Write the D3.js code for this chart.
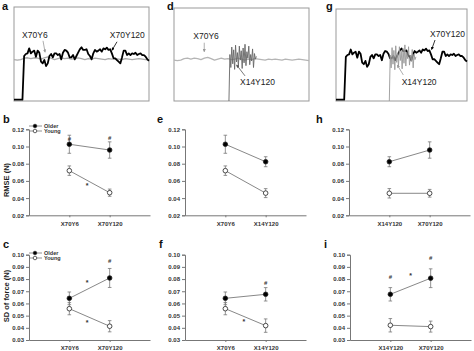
<!DOCTYPE html>
<html>
<head>
<meta charset="utf-8">
<script src="https://cdn.jsdelivr.net/npm/d3@7"></script>
<style>
  body { margin: 0; background: #fff; }
  svg { display: block; font-family: Arial, "Liberation Sans", sans-serif; }
</style>
</head>
<body>
<div id="chart"></div>
<script>
// ---- force traces (time 0-100, force in arbitrary units 0-10) ----
const traceX70Y120 = [0.14, 0.14, 0.14, 0.14, 0.14, 0.14, 4.79, 5.0, 5.07, 5.6, 5.07, 5.25, 5.36, 4.71, 5.36, 5.14,
  4.18, 4.0, 4.36, 3.71, 4.0, 4.79, 5.0, 4.64, 5.07, 5.07, 4.89, 5.0, 4.43, 5.14, 5.43, 5.36, 5.14, 4.64, 4.64,
  4.89, 4.43, 4.79, 5.14, 5.5, 5.71, 5.43, 5.43, 5.5, 5.0, 4.79, 4.43, 5.07, 5.43, 5.25, 5.36, 5.5, 5.25, 5.6,
  5.5, 5.68, 5.43, 5.5, 5.07, 4.54, 4.54, 4.36, 4.18, 4.0, 4.64, 5.36, 5.36, 4.89, 5.07, 4.89, 5.07, 5.0, 5.14,
  4.89, 5.0, 5.07, 4.89, 4.89, 4.71, 4.43, 4.29];
const traceX70Y6 = [4.4, 4.35, 4.4, 4.55, 4.6, 4.5, 4.6, 4.55, 4.45, 4.6, 4.7, 4.55, 4.4, 4.5, 4.6, 4.5, 4.55,
  4.45, 4.5, 4.6, 4.5, 4.4, 4.5, 4.45, 4.55, 4.5, 4.45, 4.4, 4.5, 4.45, 4.5, 4.45, 4.4, 4.5, 4.45, 4.4, 4.45,
  4.5, 4.45, 4.4, 4.35];
const traceX14Y120 = [0.0, 5.0, 3.6, 5.8, 4.0, 5.5, 3.4, 6.0, 4.2, 5.2, 3.7, 5.9, 4.4, 5.4, 3.5, 5.7, 4.1, 6.1,
  3.8, 5.3, 4.6, 5.9, 3.9, 5.0, 4.3, 5.6, 3.6, 5.1, 4.5, 4.8];
const spanX70Y120 = [0, 100];
const spanX70Y6 = [0, 100];
const spanX14Y120 = [40.7, 61];

// ---- RMSE (b, e, h) ----
const catsB = ['X70Y6', 'X70Y120'];
const olderB = [0.1026, 0.0959], olderErrB = [0.0105, 0.0095];
const youngB = [0.0719, 0.0463], youngErrB = [0.0055, 0.0042];
const catsE = ['X70Y6', 'X14Y120'];
const olderE = [0.1026, 0.0823], olderErrE = [0.0105, 0.0058];
const youngE = [0.0719, 0.0458], youngErrE = [0.0055, 0.0052];
const catsH = ['X14Y120', 'X70Y120'];
const olderH = [0.0823, 0.0959], olderErrH = [0.0058, 0.0095];
const youngH = [0.0456, 0.0456], youngErrH = [0.0055, 0.0045];

// ---- SD of force (c, f, i) ----
const catsC = ['X70Y6', 'X70Y120'];
const olderC = [0.0642, 0.0809], olderErrC = [0.0052, 0.0078];
const youngC = [0.0557, 0.0413], youngErrC = [0.005, 0.0046];
const catsF = ['X70Y6', 'X14Y120'];
const olderF = [0.0642, 0.0675], olderErrF = [0.0052, 0.0055];
const youngF = [0.0557, 0.0418], youngErrF = [0.005, 0.0055];
const catsI = ['X14Y120', 'X70Y120'];
const olderI = [0.0675, 0.0807], olderErrI = [0.0055, 0.0077];
const youngI = [0.0421, 0.041], youngErrI = [0.0055, 0.0045];

// significance marks: [symbol, position between categories (0..1), value]
const marksB = [['#', 0, 0.1088], ['#', 1, 0.1098], ['*', 0.44, 0.0564]];
const marksC = [['#', 1, 0.0946], ['*', 0.44, 0.0787], ['*', 0.44, 0.0456]];
const marksF = [['#', 1, 0.0768], ['*', 0.46, 0.0467]];
const marksI = [['#', 0, 0.0815], ['*', 0.5, 0.0842], ['#', 1, 0.0975]];

const ticksRmse = [0.02, 0.04, 0.06, 0.08, 0.10, 0.12];
const ticksSd = [0.03, 0.04, 0.05, 0.06, 0.07, 0.08, 0.09, 0.10];

const svg = d3.select('#chart').append('svg')
  .attr('width', 474)
  .attr('height', 351);

const defs = svg.append('defs');
[['black', '#000'], ['gray', '#999'], ['dark', '#555']].forEach(([id, c]) => {
  defs.append('marker')
    .attr('id', 'arr-' + id)
    .attr('viewBox', '0 0 6 6')
    .attr('refX', 5).attr('refY', 3)
    .attr('markerWidth', 4).attr('markerHeight', 4)
    .attr('orient', 'auto')
    .append('path').attr('d', 'M0,0 L6,3 L0,6 Z').attr('fill', c);
});

function letter(x, y, t) {
  svg.append('text').attr('x', x).attr('y', y).text(t)
    .attr('font-size', 11).attr('font-weight', 'bold').attr('fill', '#111');
}

function tracePanel(p) {
  const x = d3.scaleLinear().domain([0, 100]).range([p.x0, p.x1]);
  const y = d3.scaleLinear().domain([0, 10]).range([p.y1, p.y0]);
  const g = svg.append('g');
  g.append('rect')
    .attr('x', p.x0).attr('y', p.y0)
    .attr('width', p.x1 - p.x0).attr('height', p.y1 - p.y0)
    .attr('fill', 'none').attr('stroke', '#999').attr('stroke-width', 1);
  p.traces.forEach(tr => {
    const t = d3.scaleLinear().domain([0, tr.values.length - 1]).range(tr.span);
    g.append('path')
      .datum(tr.values)
      .attr('d', d3.line().x((d, i) => x(t(i))).y(d => y(d)))
      .attr('fill', 'none')
      .attr('stroke', tr.color)
      .attr('stroke-width', tr.width)
      .attr('stroke-linejoin', 'round');
  });
  p.labels.forEach(l => {
    g.append('text').attr('x', x(l.t)).attr('y', y(l.f)).text(l.text)
      .attr('font-size', 8.5).attr('fill', '#222');
    g.append('line')
      .attr('x1', x(l.a[0])).attr('y1', y(l.a[1]))
      .attr('x2', x(l.a[2])).attr('y2', y(l.a[3]))
      .attr('stroke', l.arrow === 'black' ? '#000' : l.arrow === 'gray' ? '#999' : '#555')
      .attr('stroke-width', 0.8)
      .attr('marker-end', `url(#arr-${l.arrow})`);
  });
}

tracePanel({
  x0: 14, x1: 149, y0: 7, y1: 101,
  traces: [
    { values: traceX70Y6, span: spanX70Y6, color: '#aaa', width: 1.3 },
    { values: traceX70Y120, span: spanX70Y120, color: '#000', width: 1.8 }
  ],
  labels: [
    { text: 'X70Y6', t: 6, f: 6.7, a: [21.5, 6.4, 23, 5.2], arrow: 'gray' },
    { text: 'X70Y120', t: 71, f: 6.7, a: [76.3, 6.3, 72.6, 5.4], arrow: 'black' }
  ]
});
tracePanel({
  x0: 174, x1: 309, y0: 8, y1: 101,
  traces: [
    { values: traceX70Y6, span: spanX70Y6, color: '#b5b5b5', width: 1.3 },
    { values: traceX14Y120, span: spanX14Y120, color: '#666', width: 0.9 }
  ],
  labels: [
    { text: 'X70Y6', t: 14.3, f: 6.67, a: [22.4, 6.27, 22.4, 5.3], arrow: 'gray' },
    { text: 'X14Y120', t: 48.9, f: 1.72, a: [52.6, 2.7, 46.4, 3.87], arrow: 'dark' }
  ]
});
tracePanel({
  x0: 336, x1: 467, y0: 9, y1: 101,
  traces: [
    { values: traceX70Y120, span: spanX70Y120, color: '#000', width: 1.8 },
    { values: traceX14Y120, span: spanX14Y120, color: '#999', width: 0.9 }
  ],
  labels: [
    { text: 'X70Y120', t: 71.8, f: 6.92, a: [75.6, 6.63, 73, 5.6], arrow: 'black' },
    { text: 'X14Y120', t: 50.1, f: 1.74, a: [51.4, 2.83, 46.8, 3.9], arrow: 'gray' }
  ]
});

function errPanel(p) {
  const x = d3.scalePoint().domain(p.cats).range([p.ax, p.ax + 121]).padding(1);
  const y = d3.scaleLinear().domain(d3.extent(p.ticks)).range([p.bottom, p.top]);
  const g = svg.append('g');

  g.append('g')
    .attr('transform', `translate(${p.ax},0)`)
    .call(d3.axisLeft(y).tickValues(p.ticks).tickFormat(d3.format('.2f')).tickSize(3).tickPadding(2))
    .call(s => {
      s.select('.domain').attr('stroke', '#777');
      s.selectAll('.tick line').attr('stroke', '#777');
      s.selectAll('text').attr('font-size', 6).attr('font-weight', 'bold').attr('fill', '#333');
    })
    .attr('font-family', null);

  g.append('g')
    .attr('transform', `translate(0,${p.bottom})`)
    .call(d3.axisBottom(x).tickSize(2).tickSizeOuter(0).tickPadding(4))
    .call(s => {
      s.select('.domain').attr('stroke', '#777');
      s.selectAll('.tick line').attr('stroke', '#777');
      s.selectAll('text').attr('font-size', 6).attr('font-weight', 'bold').attr('fill', '#333');
    })
    .attr('font-family', null);

  const series = [
    { v: p.young, e: p.youngErr, fill: '#fff' },
    { v: p.older, e: p.olderErr, fill: '#000' }
  ];
  series.forEach(s => {
    const pts = p.cats.map((c, i) => ({ c, v: s.v[i], e: s.e[i] }));
    g.append('path').datum(pts)
      .attr('d', d3.line().x(d => x(d.c)).y(d => y(d.v)))
      .attr('fill', 'none').attr('stroke', '#888').attr('stroke-width', 1);
    const eb = g.append('g').attr('stroke', '#777').attr('stroke-width', 0.8);
    pts.forEach(d => {
      eb.append('line').attr('x1', x(d.c)).attr('x2', x(d.c))
        .attr('y1', y(d.v - d.e)).attr('y2', y(d.v + d.e));
      [d.v - d.e, d.v + d.e].forEach(yy => {
        eb.append('line').attr('x1', x(d.c) - 1.8).attr('x2', x(d.c) + 1.8)
          .attr('y1', y(yy)).attr('y2', y(yy));
      });
    });
    g.selectAll(null).data(pts).join('circle')
      .attr('cx', d => x(d.c)).attr('cy', d => y(d.v)).attr('r', 2.3)
      .attr('fill', s.fill).attr('stroke', '#222').attr('stroke-width', 0.8);
  });

  const x0 = x(p.cats[0]), x1 = x(p.cats[1]);
  (p.marks || []).forEach(([sym, pos, v]) => {
    g.append('text')
      .attr('x', x0 + (x1 - x0) * pos).attr('y', y(v))
      .attr('dy', sym === '*' ? '0.6em' : '0.35em')
      .attr('text-anchor', 'middle')
      .attr('font-size', sym === '*' ? 7 : 6).attr('font-weight', 'bold').attr('fill', '#333')
      .text(sym);
  });

  if (p.legend) {
    const ly = [p.legend[1], p.legend[1] + 5];
    [['Older', '#000'], ['Young', '#fff']].forEach(([name, fill], i) => {
      g.append('line').attr('x1', p.ax).attr('x2', p.ax + 13)
        .attr('y1', ly[i]).attr('y2', ly[i]).attr('stroke', '#777').attr('stroke-width', 0.8);
      g.append('circle').attr('cx', p.ax + 6).attr('cy', ly[i]).attr('r', 1.8)
        .attr('fill', fill).attr('stroke', '#222').attr('stroke-width', 0.7);
      g.append('text').attr('x', p.ax + 15).attr('y', ly[i]).attr('dy', '0.35em')
        .attr('font-size', 5.5).attr('font-weight', 'bold').attr('fill', '#333').text(name);
    });
  }

  if (p.ylabel) {
    g.append('text')
      .attr('transform', `translate(9,${p.ylabel[1]}) rotate(-90)`)
      .attr('text-anchor', 'middle')
      .attr('font-size', 7.5).attr('font-weight', 'bold').attr('fill', '#222')
      .text(p.ylabel[0]);
  }
}

const row1 = { top: 129.3, bottom: 215.3, ticks: ticksRmse };
const row2 = { top: 254.7, bottom: 340, ticks: ticksSd };

errPanel({ ...row1, ax: 29, cats: catsB, older: olderB, olderErr: olderErrB, young: youngB, youngErr: youngErrB,
  marks: marksB, legend: [29, 126], ylabel: ['RMSE (N)', 180] });
errPanel({ ...row1, ax: 185, cats: catsE, older: olderE, olderErr: olderErrE, young: youngE, youngErr: youngErrE });
errPanel({ ...row1, ax: 349, cats: catsH, older: olderH, olderErr: olderErrH, young: youngH, youngErr: youngErrH });
errPanel({ ...row2, ax: 29, cats: catsC, older: olderC, olderErr: olderErrC, young: youngC, youngErr: youngErrC,
  marks: marksC, legend: [29, 253], ylabel: ['SD of force (N)', 296] });
errPanel({ ...row2, ax: 185, cats: catsF, older: olderF, olderErr: olderErrF, young: youngF, youngErr: youngErrF,
  marks: marksF });
errPanel({ ...row2, ax: 350, cats: catsI, older: olderI, olderErr: olderErrI, young: youngI, youngErr: youngErrI,
  marks: marksI });

letter(2, 10, 'a');
letter(167, 10, 'd');
letter(326, 10, 'g');
letter(3, 123, 'b');
letter(157, 123, 'e');
letter(316, 123, 'h');
letter(3, 248, 'c');
letter(159, 248, 'f');
letter(324, 248, 'i');
</script>
</body>
</html>
